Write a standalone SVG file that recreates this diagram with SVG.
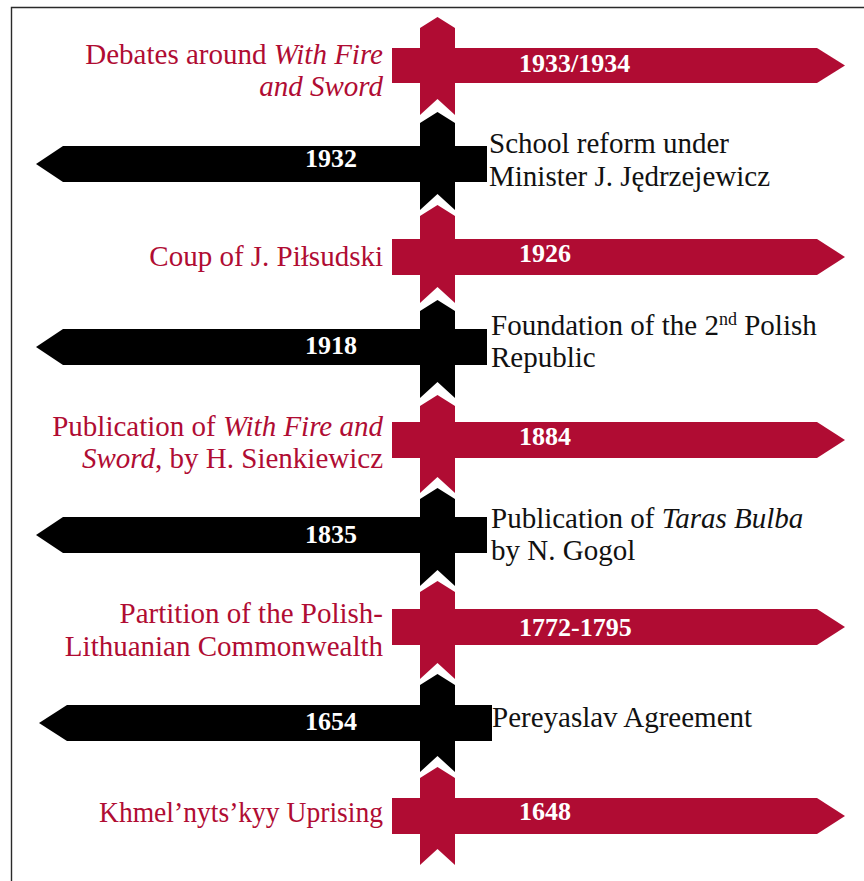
<svg xmlns="http://www.w3.org/2000/svg" width="864" height="881" viewBox="0 0 864 881">
  <style>
    .red { fill: #b00c33; }
    .blk { fill: #000000; }
    .year { font-family: "Liberation Serif", "Times New Roman", serif; font-size: 26px; font-weight: bold; fill: #ffffff; }
    .lbl { font-family: "Liberation Serif", "Times New Roman", serif; font-size: 29px; }
    .lbl-red { fill: #b00c33; text-anchor: end; }
    .lbl-blk { fill: #111111; }
    .it { font-style: italic; }
    .frame { fill: none; stroke: #2a2a2a; stroke-width: 1.4; }
  </style>

  <!-- page frame -->
  <path class="frame" d="M11.5,881 V7.5 H864"/>

  <!-- spine pieces: each event owns one arrow-ended segment of the vertical band -->
  <g id="connectors">
    <polygon class="red" points="420,28 437.5,17 455,28 455,115 437.5,99 420,115"/>
    <polygon class="blk" points="420,123 437.5,112 455,123 455,210 437.5,194 420,210"/>
    <polygon class="red" points="420,216 437.5,205 455,216 455,303 437.5,287 420,303"/>
    <polygon class="blk" points="420,311 437.5,300 455,311 455,398 437.5,382 420,398"/>
    <polygon class="red" points="420,406 437.5,395 455,406 455,493 437.5,477 420,493"/>
    <polygon class="blk" points="420,499 437.5,488 455,499 455,586 437.5,570 420,586"/>
    <polygon class="red" points="420,592 437.5,581 455,592 455,679 437.5,663 420,679"/>
    <polygon class="blk" points="420,685 437.5,674 455,685 455,772 437.5,756 420,772"/>
    <polygon class="red" points="420,778 437.5,767 455,778 455,865 437.5,849 420,865"/>
  </g>

  <!-- 1933/1934 -->
  <g id="ev-1933">
    <polygon class="red" points="392,48 817,48 845,65.5 817,83 392,83"/>
    <text class="year" x="519" y="72">1933/1934</text>
    <text class="lbl lbl-red" x="383" y="64">Debates around <tspan class="it">With Fire</tspan></text>
    <text class="lbl lbl-red it" x="383" y="96">and Sword</text>
  </g>

  <!-- 1932 -->
  <g id="ev-1932">
    <polygon class="blk" points="487,146 63,146 36,164 63,182 487,182"/>
    <text class="year" x="357" y="167" text-anchor="end">1932</text>
    <text class="lbl lbl-blk" x="489" y="153">School reform under</text>
    <text class="lbl lbl-blk" x="489" y="186">Minister J. Jędrzejewicz</text>
  </g>

  <!-- 1926 -->
  <g id="ev-1926">
    <polygon class="red" points="392,239 817,239 845,257 817,275 392,275"/>
    <text class="year" x="519" y="262">1926</text>
    <text class="lbl lbl-red" x="383" y="266">Coup of J. Piłsudski</text>
  </g>

  <!-- 1918 -->
  <g id="ev-1918">
    <polygon class="blk" points="487,329 63,329 36,347 63,365 487,365"/>
    <text class="year" x="357" y="354" text-anchor="end">1918</text>
    <text class="lbl lbl-blk" x="491" y="335">Foundation of the 2<tspan font-size="18" dy="-10">nd</tspan><tspan dy="10"> Polish</tspan></text>
    <text class="lbl lbl-blk" x="491" y="367">Republic</text>
  </g>

  <!-- 1884 -->
  <g id="ev-1884">
    <polygon class="red" points="392,422 817,422 845,440 817,458 392,458"/>
    <text class="year" x="519" y="445">1884</text>
    <text class="lbl lbl-red" x="383" y="436">Publication of <tspan class="it">With Fire and</tspan></text>
    <text class="lbl lbl-red" x="383" y="468"><tspan class="it">Sword</tspan>, by H. Sienkiewicz</text>
  </g>

  <!-- 1835 -->
  <g id="ev-1835">
    <polygon class="blk" points="487,517 63,517 36,535 63,553 487,553"/>
    <text class="year" x="357" y="543" text-anchor="end">1835</text>
    <text class="lbl lbl-blk" x="491" y="528">Publication of <tspan class="it">Taras Bulba</tspan></text>
    <text class="lbl lbl-blk" x="491" y="560">by N. Gogol</text>
  </g>

  <!-- 1772-1795 -->
  <g id="ev-1772">
    <polygon class="red" points="392,609 817,609 845,627 817,645 392,645"/>
    <text class="year" x="519" y="636">1772-1795</text>
    <text class="lbl lbl-red" x="383" y="623">Partition of the Polish-</text>
    <text class="lbl lbl-red" x="383" y="656">Lithuanian Commonwealth</text>
  </g>

  <!-- 1654 -->
  <g id="ev-1654">
    <polygon class="blk" points="492,705 67,705 39,723 67,741 492,741"/>
    <text class="year" x="357" y="730" text-anchor="end">1654</text>
    <text class="lbl lbl-blk" x="492" y="727">Pereyaslav Agreement</text>
  </g>

  <!-- 1648 -->
  <g id="ev-1648">
    <polygon class="red" points="392,798 817,798 845,816 817,834 392,834"/>
    <text class="year" x="519" y="820">1648</text>
    <text class="lbl lbl-red" x="383" y="822" textLength="284" lengthAdjust="spacingAndGlyphs">Khmel’nyts’kyy Uprising</text>
  </g>
</svg>
